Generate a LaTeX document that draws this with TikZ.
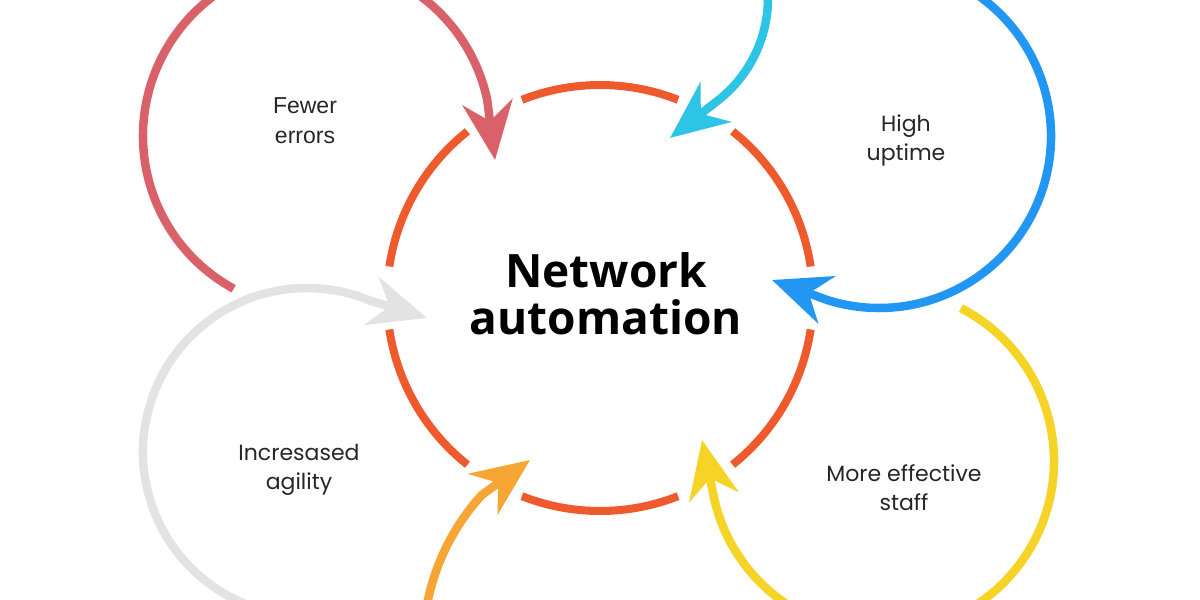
\documentclass[tikz,border=0pt]{standalone}
\usepackage{fontspec}
\setmainfont{Liberation Sans}
\newfontfamily\titlefont{Open Sans}
\newfontfamily\geofont{Poppins}
\usetikzlibrary{arrows.meta,calc}
\definecolor{mainc}{HTML}{EE5A2C}
\definecolor{redc}{HTML}{D9626A}
\definecolor{cyanc}{HTML}{2EC4E6}
\definecolor{bluec}{HTML}{2196F3}
\definecolor{yellowc}{HTML}{F5D327}
\definecolor{orangec}{HTML}{F5A634}
\definecolor{greyc}{HTML}{E3E3E3}
\tikzset{
  mainarc/.style={draw=mainc, line width=8pt},
  loop/.style={line width=8.5pt, -{Stealth[length=58pt, width=50pt]}},
  label/.style={align=center, text=black!85, inner sep=0pt},
}
\begin{document}
\begin{tikzpicture}[x=1pt,y=1pt]
\useasboundingbox (0,0) rectangle (1200,600);
\clip (0,0) rectangle (1200,600);
% centres
\coordinate (mc) at (600,302);
\coordinate (rc) at (317,464);
\coordinate (bc) at (879,464);
\coordinate (yc) at (882,139);
\coordinate (gc) at (307,148);
\coordinate (oc) at (649,-47);
\coordinate (cc) at (638,602);
% tips
\coordinate (redtip) at (495,440);
\coordinate (bluetip) at (772,320);
\coordinate (yellowtip) at (702,160);
\coordinate (greytip) at (427,282);
\coordinate (orangetip) at (530,140);
\coordinate (cyantip) at (670,462);
% main circle arcs
\foreach \a in {90,30,-30,-90,-150,150}{
  \draw[mainarc] ($(mc)+(\a+21.5:213)$) arc[start angle=\a+21.5, end angle=\a-21.5, radius=213];
}
% outer loops
\draw[loop, redc] ($(rc)+(241.4:174)$) arc[start angle=241.4, end angle=12, radius=174] -- (redtip);
\draw[loop, bluec] ($(bc)+(60:172)$) arc[start angle=60, end angle=-107.4, radius=172] -- (bluetip);
\draw[loop, yellowc] ($(yc)+(62.7:172)$) arc[start angle=62.7, end angle=-167.2, radius=172] -- (yellowtip);
\draw[loop, greyc] ($(gc)+(252:164)$) arc[start angle=252, end angle=67.5, radius=164] -- (greytip);
\draw[loop, orangec] ($(oc)+(172:226)$) arc[start angle=172, end angle=137.7, radius=226] -- (orangetip);
\draw[loop, cyanc] ($(cc)+(10:130)$) arc[start angle=10, end angle=-53.4, radius=130] -- (cyantip);
% texts
\node[label, font=\titlefont\bfseries\fontsize{46}{47}\selectfont, text=black] (title) at (606,306) {Network\\automation};
\node[label, font=\fontsize{23}{30}\selectfont] (fewer) at (305,479) {Fewer\\errors};
\node[label, font=\geofont\fontsize{22}{29}\selectfont] (high) at (906,460) {High\\uptime};
\node[label, font=\geofont\fontsize{22}{29}\selectfont] (agility) at (299,130) {Incresased\\agility};
\node[label, font=\geofont\fontsize{22}{29}\selectfont] (staff) at (904,112) {More effective\\staff};
\end{tikzpicture}
\end{document}
